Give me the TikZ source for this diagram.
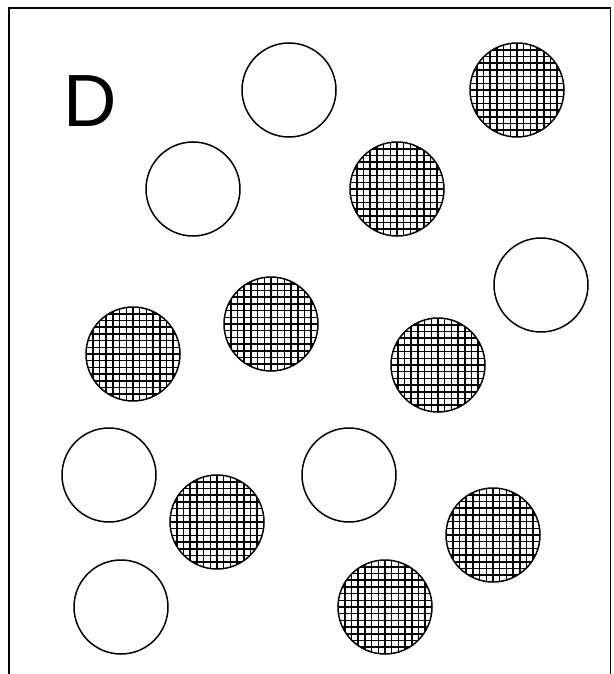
\documentclass[tikz,border=0pt]{standalone}
\usepackage{fontspec}
\setmainfont{Liberation Sans}
\begin{document}
\begin{tikzpicture}[x=1pt,y=-1pt,
  ball/.style={circle,draw=black,line width=1.5pt,minimum size=94pt,inner sep=0pt},
  hatched/.style={ball,path picture={
    \foreach \i in {-8,...,8}{
      \draw[line width=1.5pt] ([xshift=\i*6.7pt]path picture bounding box.center) ++(0,-50) -- ++(0,100);
      \draw[line width=1.5pt] ([yshift=\i*6.7pt]path picture bounding box.center) ++(-50,0) -- ++(100,0);
    }}}]
\useasboundingbox (0,0) rectangle (613,674);
\draw[line width=1.8pt] (9,674) -- (9,8) -- (610.5,8) -- (610.5,674);
\node (lab) at (90,101) {\fontsize{74}{80}\selectfont D};
\node[ball] (o1) at (289,90) {};
\node[ball] (o2) at (193,189) {};
\node[ball] (o3) at (541,285) {};
\node[ball] (o4) at (109,475) {};
\node[ball] (o5) at (349,475) {};
\node[ball] (o6) at (121,607) {};
\node[hatched] (h1) at (517,90) {};
\node[hatched] (h2) at (397,189) {};
\node[hatched] (h3) at (271,324) {};
\node[hatched] (h4) at (133,354) {};
\node[hatched] (h5) at (438,365) {};
\node[hatched] (h6) at (217,522) {};
\node[hatched] (h7) at (493,535) {};
\node[hatched] (h8) at (385,607) {};
\end{tikzpicture}
\end{document}
